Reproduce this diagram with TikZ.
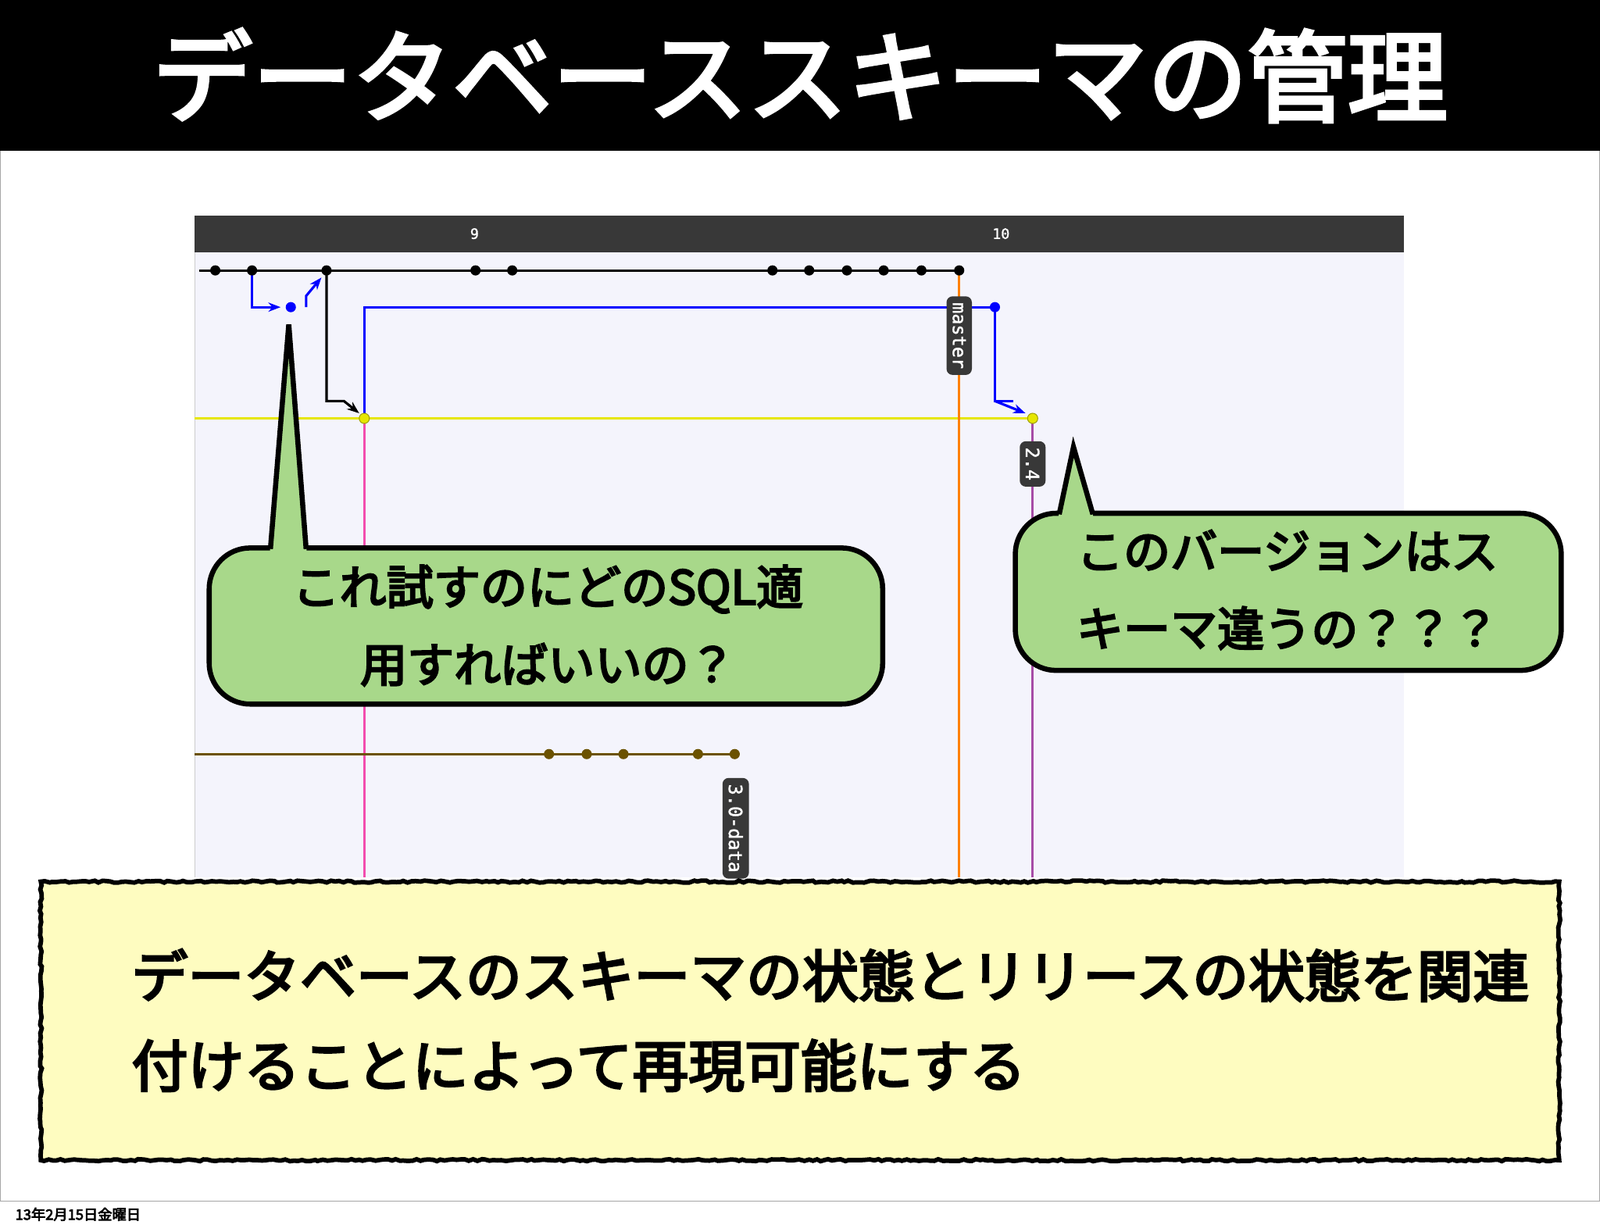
\documentclass[tikz,border=0pt]{standalone}
\usepackage{fontspec}
\setmainfont{Noto Sans CJK JP}[FakeBold=4]
\newfontfamily\jpb{Noto Sans CJK JP}[FakeBold=3.5]
\newfontfamily\lab{DejaVu Sans Mono}[FakeBold=1.5]
\usetikzlibrary{decorations.pathmorphing,arrows.meta}
\definecolor{lav}{HTML}{F4F4FC}
\definecolor{bar}{HTML}{383838}
\definecolor{gfill}{HTML}{A8D88A}
\definecolor{yfill}{HTML}{FEFCC0}
\definecolor{ylw}{HTML}{E6E600}
\definecolor{brn}{HTML}{6B5200}
\begin{document}
\begin{tikzpicture}[x=0.5pt,y=-0.5pt,
  cdot/.style={circle,fill=#1,inner sep=0pt,minimum size=5pt},
  tag/.style={fill=bar,text=white,rounded corners=3pt,rotate=-90,font=\lab\fontsize{9}{9}\selectfont,inner sep=3pt},
  rough/.style={draw=black,line width=2.2pt,decorate,decoration={random steps,segment length=2pt,amplitude=0.5pt}},
  bubble/.style={draw=black,line width=2.5pt,fill=gfill,rounded corners=20pt},
  ptr/.style={draw=black,line width=2.5pt,line join=miter},
  cline/.style={line width=1.2pt}]
\useasboundingbox (0,0) rectangle (1568,1207);
\fill[white] (0,0) rectangle (1568,1207);
\fill[black] (0,0) rectangle (1568,148);
\draw[gray!70] (0.5,148) -- (0.5,1177) -- (1567.5,1177) -- (1567.5,148);
\node[text=white,font=\jpb\fontsize{49}{49}\selectfont] (title) at (784,74) {データベーススキーマの管理};
\node[anchor=west,font=\fontsize{7}{7}\selectfont] (foot) at (8,1190) {13年2月15日金曜日};
% screenshot
\fill[lav] (191,247) rectangle (1376,860);
\draw[gray!40] (191,247) -- (191,860);
\fill[bar] (191,211) rectangle (1376,247);
\node[text=white,font=\lab\fontsize{7}{7}\selectfont] (n9) at (465,229) {9};
\node[text=white,font=\lab\fontsize{7}{7}\selectfont] (n10) at (981,229) {10};
% lines
\draw[cline,ylw] (191,410) -- (1012,410);
\draw[cline,magenta!70] (357,410) -- (357,860);
\draw[cline,orange] (940,265) -- (940,860);
\draw[cline,violet!70] (1012,410) -- (1012,860);
\draw[cline,brn] (191,739) -- (720,739);
\draw[cline,black] (195,265) -- (940,265);
\draw[cline,blue] (357,410) -- (357,301) -- (975,301) -- (975,393) -- (993,393);
\draw[cline,blue,-{Stealth[length=6pt]}] (975,393) -- (1005,405);
\draw[cline,blue,-{Stealth[length=6pt]}] (247,265) -- (247,301) -- (275,301);
\draw[cline,blue,-{Stealth[length=6pt]}] (300,301) -- (300,290) -- (315,272);
\draw[cline,black,-{Stealth[length=6pt]}] (320,265) -- (320,393) -- (337,393) -- (352,405);
\foreach \x in {211,247,320,466,502,757,793,830,866,903,940} \node[cdot=black] at (\x,265) {};
\node[cdot=blue] (b1) at (285,301) {};
\node[cdot=blue] (b2) at (975,301) {};
\node[cdot=ylw,draw=ylw!70!black] (y1) at (357,410) {};
\node[cdot=ylw,draw=ylw!70!black] (y2) at (1012,410) {};
\foreach \x in {538,575,611,684,720} \node[cdot=brn] at (\x,739) {};
\node[tag,anchor=west] (m) at (940,290) {master};
\node[tag,anchor=west] (v24) at (1012,432) {2.4};
\begin{scope}
\clip (600,740) rectangle (800,862);
\node[tag,anchor=west] (v30) at (721,762) {3.0-data};
\end{scope}
% callouts
\draw[bubble] (205,537) rectangle (865,690);
\fill[gfill] (264,546) -- (283,318) -- (301,546) -- cycle;
\draw[ptr] (265,538) -- (283,318) -- (300,538);
\node[font=\fontsize{23}{38}\selectfont,align=center] (c1) at (537,613) {これ試すのにどのSQL適\\用すればいいの？};
\draw[bubble] (995,503) rectangle (1530,657);
\fill[gfill] (1036,512) -- (1052,438) -- (1073,512) -- cycle;
\draw[ptr] (1038,504) -- (1052,438) -- (1071,504);
\node[font=\fontsize{23}{38}\selectfont,align=left] (c2) at (1262,578) {このバージョンはス\\キーマ違うの？？？};
% bottom box
\draw[rough,fill=yfill] (40,864) rectangle (1528,1137);
\node[anchor=west,font=\fontsize{27.5}{44}\selectfont,align=left] (note) at (122,1000) {データベースのスキーマの状態とリリースの状態を関連\\付けることによって再現可能にする};
\end{tikzpicture}
\end{document}
